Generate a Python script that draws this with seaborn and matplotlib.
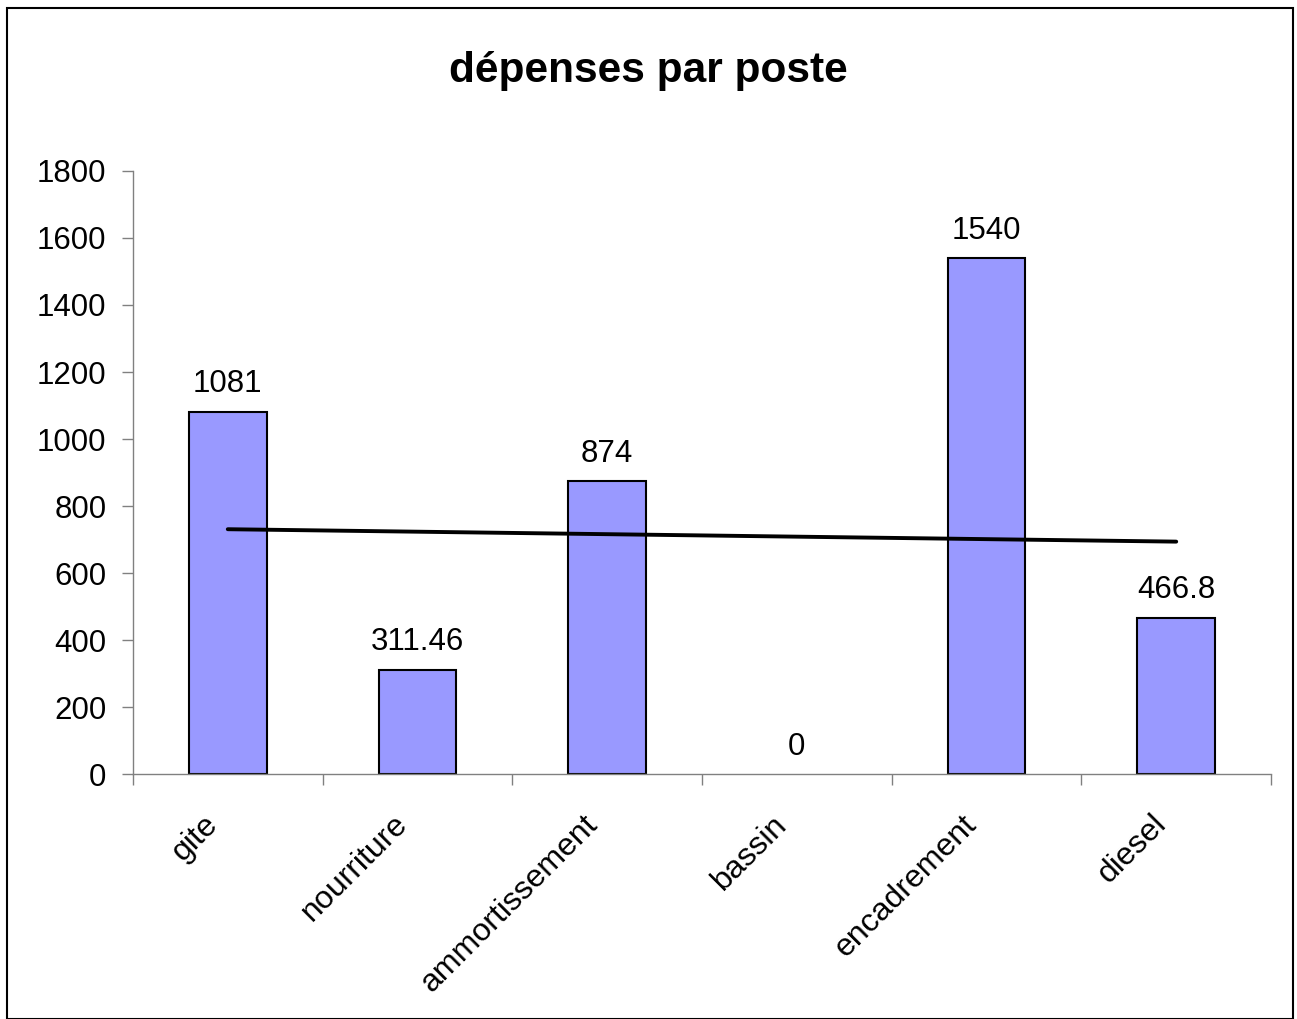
import numpy as np
import pandas as pd
import matplotlib
matplotlib.use('Agg')
import matplotlib.pyplot as plt
import matplotlib.transforms as mtransforms
import seaborn as sns

# données
postes = ['gite', 'nourriture', 'ammortissement', 'bassin', 'encadrement', 'diesel']
montants = [1081, 311.46, 874, 0, 1540, 466.8]
etiquettes = ['1081', '311.46', '874', '0', '1540', '466.8']

df = pd.DataFrame({'poste': postes, 'montant': montants})
df['pos'] = np.arange(len(postes))

sns.set_theme(style="white")
plt.rcParams['font.family'] = ['Liberation Sans', 'DejaVu Sans']
plt.rcParams['text.color'] = 'black'
plt.rcParams['xtick.color'] = 'black'
plt.rcParams['ytick.color'] = 'black'

fig = plt.figure(figsize=(12.97, 10.19), dpi=100)
ax = fig.add_axes([0.1025, 0.2404, 0.8775, 0.5918])

sns.barplot(data=df, x='poste', y='montant', color='#9999FF', saturation=1,
            width=0.41, edgecolor='black', linewidth=1.5, ax=ax)
# pas de contour pour une barre nulle
for p in ax.patches:
    if p.get_height() == 0:
        p.set_visible(False)

# courbe de tendance linéaire
sns.regplot(data=df, x='pos', y='montant', scatter=False, ci=None, truncate=True,
            line_kws={'color': 'black', 'linewidth': 2.8}, ax=ax)

for i, (v, t) in enumerate(zip(montants, etiquettes)):
    ax.annotate(t, (i, v), xytext=(0, 9), textcoords='offset points',
                ha='center', va='bottom', fontsize=22.5, color='black')

ax.set_xlim(-0.5, 5.5)
ax.set_ylim(0, 1800)
ax.set_yticks(range(0, 1801, 200))
ax.set_xticks(np.arange(len(postes)))
ax.set_xticklabels(postes, rotation=45, ha='right', va='center',
                   rotation_mode='anchor', fontsize=23)
ax.set_xticks(np.arange(-0.5, 6, 1), minor=True)
ax.tick_params(axis='x', which='major', length=0, pad=33)
ax.tick_params(axis='x', which='minor', length=8, width=1, color='#808080', bottom=True)
ax.tick_params(axis='y', length=8, width=1, color='#808080', left=True, labelsize=22.5, pad=11)
ax.set_xlabel('')
ax.set_ylabel('')

for s in ['top', 'right']:
    ax.spines[s].set_visible(False)
for s in ['left', 'bottom']:
    ax.spines[s].set_color('#808080')
    ax.spines[s].set_linewidth(1)

fig.text(0.5, 0.9195, 'dépenses par poste', fontsize=30.5, fontweight='bold',
         ha='center', va='baseline', color='black')

# cadre autour du graphique
fig.patches.append(plt.Rectangle((0.0055, 0.0), 0.9915, 0.992, transform=fig.transFigure,
                                 fill=False, edgecolor='black', linewidth=1.5))

# décaler les étiquettes vers la gauche (après tick_params)
decal = mtransforms.ScaledTranslation(-0.14, 0, fig.dpi_scale_trans)
for lab in ax.get_xticklabels():
    lab.set_transform(lab.get_transform() + decal)

fig.savefig('out.png', dpi=100)
